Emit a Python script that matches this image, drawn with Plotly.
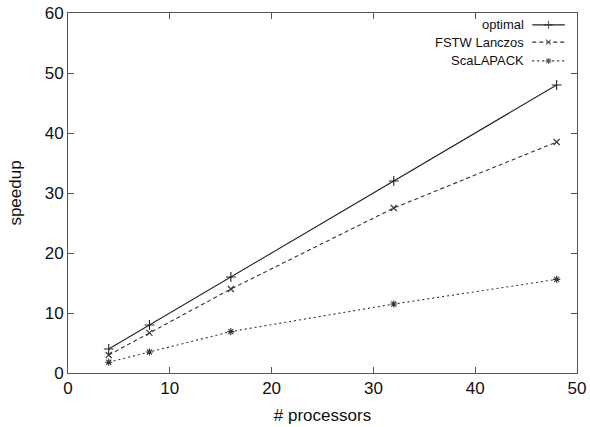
import plotly.graph_objects as go

processors = [4, 8, 16, 32, 48]
optimal = [4, 8, 16, 32, 48]
fstw_lanczos = [3.0, 6.7, 14.0, 27.5, 38.5]
scalapack = [1.8, 3.5, 6.9, 11.5, 15.6]

series_names = ["optimal", "FSTW Lanczos", "ScaLAPACK"]
series_values = [optimal, fstw_lanczos, scalapack]
dashes = ["solid", "4px,3px", "2px,3px"]
symbols = ["cross-thin-open", "x-thin-open", "asterisk-open"]
sizes = [7, 6, 6]
colors = ["#222222", "#333333", "#333333"]

FONT = "Liberation Sans, Arial"

fig = go.Figure()
for name, vals, dsh, sym, sz, col in zip(series_names, series_values, dashes, symbols, sizes, colors):
    fig.add_trace(go.Scatter(
        x=processors, y=vals, mode="lines+markers", name=name,
        line=dict(color=col, width=1.1, dash=dsh),
        marker=dict(symbol=sym, size=sz, color=col, line=dict(color=col, width=1.1)),
        showlegend=False,
    ))

# custom legend (text right, sample to the right), gnuplot style
leg_y = [0.967, 0.919, 0.867]
for name, dsh, sym, sz, col, ly in zip(series_names, dashes, symbols, sizes, colors, leg_y):
    fig.add_annotation(xref="paper", yref="paper", x=0.900, y=ly, text=name,
                       showarrow=False, xanchor="right", yanchor="middle",
                       font=dict(family=FONT, size=13, color="#111"))
    fig.add_trace(go.Scatter(
        x=[0.912, 0.944, 0.976], y=[ly, ly, ly], xaxis="x2", yaxis="y2",
        mode="lines+markers", line=dict(color=col, width=1.1, dash=dsh),
        marker=dict(symbol=["circle-open", sym, "circle-open"], size=[0, sz - 1, 0], color=col,
                    line=dict(color=col, width=1.1)),
        showlegend=False, hoverinfo="skip",
    ))

axis_common = dict(
    showgrid=False, zeroline=False, showline=True, linecolor="#555", linewidth=1,
    mirror="ticks", ticks="inside", ticklen=6, tickcolor="#555",
    tickfont=dict(family=FONT, size=17, color="#111"),
    automargin=False, ticklabeloverflow="allow",
)
fig.update_layout(
    width=590, height=427,
    margin=dict(l=68, r=13, t=13, b=54, autoexpand=False),
    paper_bgcolor="white", plot_bgcolor="white",
    xaxis=dict(range=[0, 50], dtick=10,
               title=dict(text="# processors", standoff=11,
                          font=dict(family=FONT, size=17, color="#111")),
               **axis_common),
    yaxis=dict(range=[0, 60], dtick=10,
               title=dict(text="speedup", standoff=18,
                          font=dict(family=FONT, size=17, color="#111")),
               **axis_common),
    xaxis2=dict(range=[0, 1], overlaying="x", visible=False, fixedrange=True),
    yaxis2=dict(range=[0, 1], overlaying="y", visible=False, fixedrange=True),
)

# remove the browser's default 8px body margin so the figure fills the window exactly
fig.write_html("out.html", config={"displayModeBar": False},
               post_script="document.body.style.margin='0';")
